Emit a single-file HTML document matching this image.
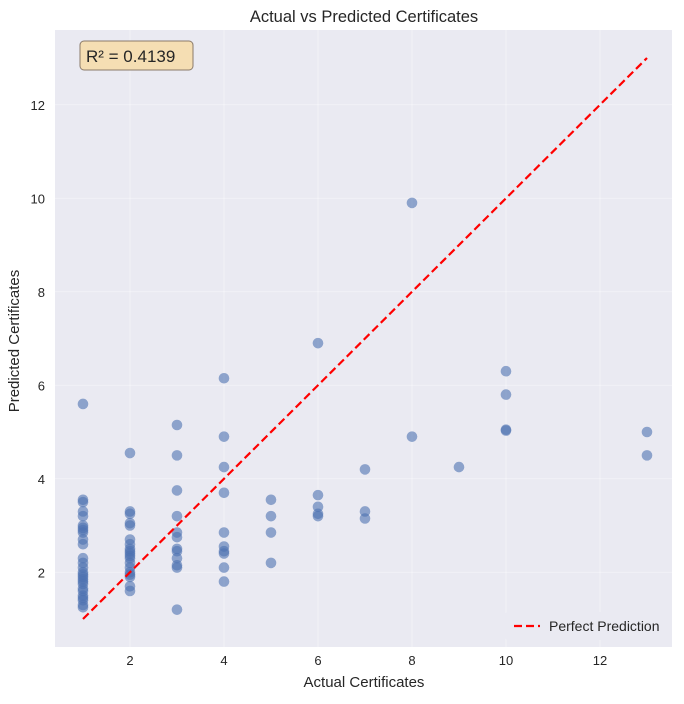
<!DOCTYPE html>
<html><head><meta charset="utf-8"><style>
body{margin:0;background:#fff;font-family:"Liberation Sans","DejaVu Sans",sans-serif;}
svg text{font-family:"Liberation Sans","DejaVu Sans",sans-serif;fill:#262626;}
</style></head><body>
<svg id="c" width="684" height="699"></svg>
<script>
const xs1=[1,1,1,1,1,1,1,1,1,1,1,1,1,1,1,1,1,1,1,1,1,1,1,1,1,1,1];
const ys1=[5.6,3.55,3.5,3.3,3.2,3.0,2.95,2.9,2.85,2.7,2.6,2.3,2.2,2.1,2.0,1.95,1.9,1.85,1.8,1.75,1.65,1.6,1.5,1.45,1.4,1.3,1.25];
const xs2=[2,2,2,2,2,2,2,2,2,2,2,2,2,2,2,2,2,2,2];
const ys2=[4.55,3.3,3.25,3.05,3.0,2.7,2.6,2.5,2.45,2.4,2.35,2.3,2.2,2.1,2.0,1.95,1.9,1.7,1.6];
const xs3=[3,3,3,3,3,3,3,3,3,3,3,3,4,4,4,4,4,4,4,4,4,4,5,5,5,5,6,6,6,6,6,7,7,7,8,8,9,10,10,10,10,13,13];
const ys3=[5.15,4.5,3.75,3.2,2.85,2.75,2.5,2.45,2.3,2.15,2.1,1.2,6.15,4.9,4.25,3.7,2.85,2.55,2.45,2.4,2.1,1.8,3.55,3.2,2.85,2.2,6.9,3.65,3.4,3.2,3.25,4.2,3.3,3.15,9.9,4.9,4.25,6.3,5.8,5.05,5.03,5.0,4.5];
const xTicks=[2,4,6,8,10,12];
const yTicks=[2,4,6,8,10,12];
const actual=xs1.concat(xs2,xs3), predicted=ys1.concat(ys2,ys3);
const L=55,R=672,T=30,B=647;
const X=v=>83+(v-1)*47, Y=v=>619-(v-1)*46.75;
const s=document.getElementById('c');const NS='http://www.w3.org/2000/svg';
function mk(t,a,p){const e=document.createElementNS(NS,t);for(const k in a)e.setAttribute(k,a[k]);(p||s).appendChild(e);return e;}
let e=mk('rect',{x:L,y:T,width:R-L,height:B-T,fill:'#eaeaf2'});


xTicks.forEach(t=>{mk('line',{x1:X(t),x2:X(t),y1:T,y2:B,stroke:'#fff','stroke-width':0.8,'stroke-opacity':0.5});
const tx=mk('text',{x:X(t),y:B+18,'text-anchor':'middle','font-size':13});tx.textContent=t;

});
yTicks.forEach(t=>{mk('line',{x1:L,x2:R,y1:Y(t),y2:Y(t),stroke:'#fff','stroke-width':0.8,'stroke-opacity':0.5});
const tx=mk('text',{x:L-10,y:Y(t)+5,'text-anchor':'end','font-size':13});tx.textContent=t;

});
actual.forEach((a,i)=>{const c=mk('circle',{cx:X(a),cy:Y(predicted[i]),r:5.3,fill:'#4c72b0','fill-opacity':0.6});

});
const ln=mk('line',{x1:X(1),y1:Y(1),x2:X(13),y2:Y(13),stroke:'#ff0000','stroke-width':2.2,'stroke-dasharray':'8,4'});


</script>
<svg style="position:absolute;left:0;top:0" width="684" height="699">
<text x="364" y="22" text-anchor="middle" font-size="16.5">Actual vs Predicted Certificates</text>
<text x="364" y="687" text-anchor="middle" font-size="15">Actual Certificates</text>
<text x="19" y="341" text-anchor="middle" font-size="15" transform="rotate(-90 19 341)">Predicted Certificates</text>
<g>
<rect x="80" y="41" width="113" height="29" rx="4" fill="#f5deb3" stroke="#8a7a6a" stroke-width="1"/>
<text x="86" y="62" font-size="17">R² = 0.4139</text></g>
<g>
<rect x="505" y="612" width="164" height="28" rx="3" fill="#eaeaf2"/>
<line x1="514" y1="626" x2="540" y2="626" stroke="#ff0000" stroke-width="2.2" stroke-dasharray="8,4"/>
<text x="549" y="631" font-size="14">Perfect Prediction</text></g>
</svg>
</body></html>
